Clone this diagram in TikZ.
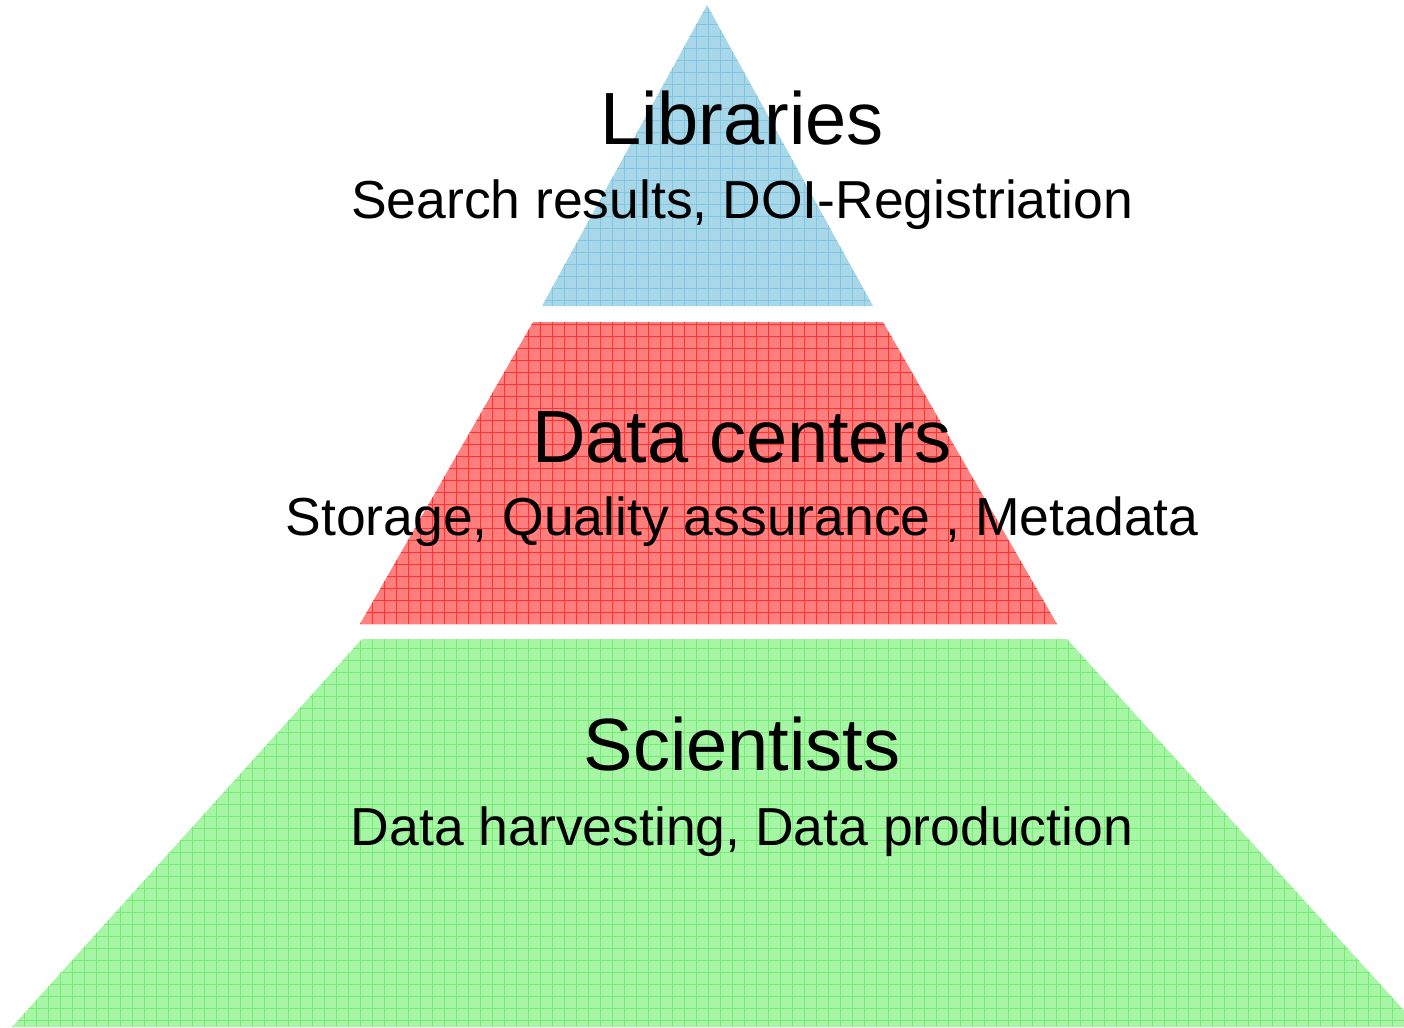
\documentclass[tikz,border=0pt]{standalone}
\usepackage{fontspec}
\setmainfont{Liberation Sans}
\definecolor{blueA}{RGB}{168,215,233}
\definecolor{blueL}{RGB}{128,198,224}
\definecolor{redA}{RGB}{255,126,126}
\definecolor{redL}{RGB}{255,50,50}
\definecolor{greenA}{RGB}{166,246,166}
\definecolor{greenL}{RGB}{118,236,118}
\tikzset{
  title/.style={anchor=base,inner sep=0pt,font=\fontsize{74}{80}\selectfont},
  subtitle/.style={anchor=base,inner sep=0pt,font=\fontsize{53.5}{60}\selectfont},
  gridline/.style={line width=0.9pt}
}
\newcommand{\layergrid}[1]{%
  \foreach \gx in {0,12,...,1404} {\draw[gridline,#1] (\gx,0) -- (\gx,1027);}
  \foreach \gy in {0,12,...,1027} {\draw[gridline,#1] (0,\gy) -- (1404,\gy);}
}
\begin{document}
\begin{tikzpicture}[x=1pt,y=-1pt]
\useasboundingbox (0,0) rectangle (1404,1027);
% top layer
\begin{scope}
\clip (707,5) -- (873,306) -- (542,306) -- cycle;
\fill[blueA] (0,0) rectangle (1404,1027);
\layergrid{blueL}
\end{scope}
% middle layer
\begin{scope}
\clip (533,322) -- (883,322) -- (1057,624) -- (360,624) -- cycle;
\fill[redA] (0,0) rectangle (1404,1027);
\layergrid{redL}
\end{scope}
% bottom layer
\begin{scope}
\clip (362,639) -- (1067,639) -- (1419,1027) -- (12,1027) -- cycle;
\fill[greenA] (0,0) rectangle (1404,1027);
\layergrid{greenL}
\end{scope}
\node[title] (lib) at (742,145) {Libraries};
\node[subtitle] (libs) at (742,218) {Search results, DOI-Registriation};
\node[title] (dc) at (742,462) {Data centers};
\node[subtitle] (dcs) at (742,535) {Storage, Quality assurance , Metadata};
\node[title] (sc) at (742,770) {Scientists};
\node[subtitle] (scs) at (742,845) {Data harvesting, Data production};
\end{tikzpicture}
\end{document}
